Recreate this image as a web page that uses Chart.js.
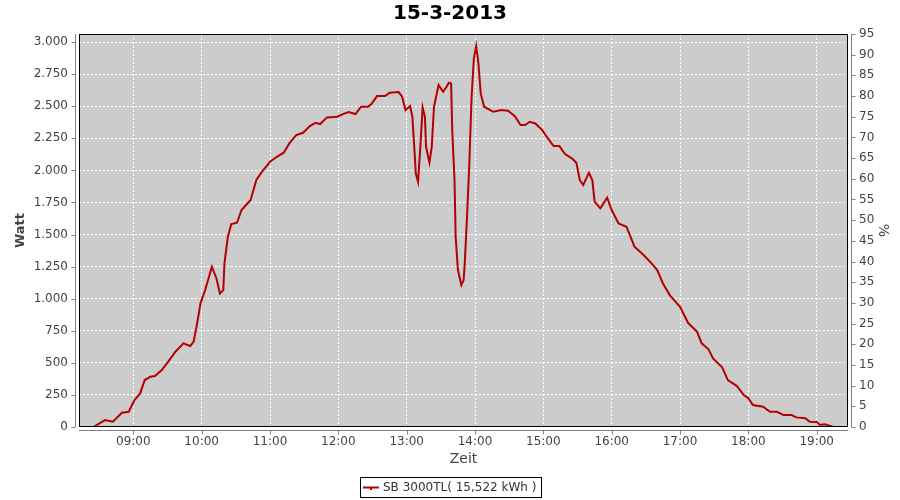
<!DOCTYPE html>
<html>
<head>
<meta charset="utf-8">
<script src="https://cdn.jsdelivr.net/npm/chart.js@4"></script>
<style>
  html, body { margin: 0; padding: 0; background: #ffffff; }
  canvas { display: block; }
</style>
</head>
<body>
<canvas id="c" width="900" height="500"></canvas>
<script>
// ---- data ----
const chartTitle = "15-3-2013";
const seriesLabel = "SB 3000TL( 15,522 kWh )";
const times = ["08:25","08:35","08:42","08:50","08:56","09:01","09:06","09:10","09:15","09:19",
  "09:25","09:31","09:37","09:44","09:50","09:53","09:56","09:59","10:03","10:06",
  "10:09","10:13","10:16","10:19","10:20","10:23","10:26","10:31","10:35","10:43",
  "10:48","10:53","10:57","11:00","11:06","11:12","11:17","11:23","11:29","11:35",
  "11:40","11:44","11:50","11:59","12:04","12:09","12:15","12:20","12:26","12:29",
  "12:34","12:41","12:45","12:53","12:56","12:59","13:03","13:05","13:07","13:08",
  "13:10","13:12","13:14","13:16","13:17","13:20","13:22","13:24","13:28","13:32",
  "13:35","13:37","13:39","13:40","13:42","13:43","13:45","13:48","13:50","13:51",
  "13:53","13:55","13:57","13:59","14:01","14:03","14:05","14:08","14:16","14:23",
  "14:29","14:35","14:40","14:44","14:48","14:53","14:59","15:04","15:09","15:14",
  "15:19","15:25","15:29","15:32","15:35","15:40","15:43","15:45","15:50","15:56",
  "16:00","16:06","16:13","16:20","16:28","16:35","16:40","16:45","16:51","17:00",
  "17:07","17:15","17:19","17:25","17:29","17:37","17:42","17:50","17:56","18:00",
  "18:04","18:13","18:19","18:25","18:31","18:38","18:42","18:50","18:54","19:00",
  "19:03","19:07","19:14"];
const watts = [0,54,41,111,119,210,262,366,392,397,
  444,514,587,652,631,665,808,964,1067,1158,
  1249,1158,1041,1067,1275,1483,1582,1592,1691,1769,
  1925,1990,2034,2067,2106,2138,2210,2275,2293,2345,
  2371,2361,2413,2418,2439,2454,2439,2496,2496,2517,
  2579,2579,2605,2610,2574,2470,2501,2418,2133,1977,
  1912,2184,2491,2418,2184,2060,2184,2496,2665,2613,
  2652,2683,2678,2314,1925,1483,1223,1106,1145,1275,
  1639,2055,2574,2873,2969,2834,2600,2496,2457,2470,
  2465,2423,2353,2353,2379,2366,2314,2249,2190,2190,
  2127,2094,2060,1925,1886,1981,1925,1756,1704,1787,
  1691,1587,1561,1405,1340,1275,1223,1119,1028,937,
  812,742,652,605,535,465,366,319,249,224,
  171,158,119,119,93,93,75,68,41,39,
  16,21,2];
const xTickLabels = ["09:00","10:00","11:00","12:00","13:00","14:00","15:00","16:00","17:00","18:00","19:00"];
const yLeftTicks = [0,250,500,750,1000,1250,1500,1750,2000,2250,2500,2750,3000];
const yRightTicks = [0,5,10,15,20,25,30,35,40,45,50,55,60,65,70,75,80,85,90,95];

// ---- helpers ----
function toHours(s) { const p = s.split(":"); return +p[0] + (+p[1]) / 60; }
function fmtThousands(v) {
  if (v < 1000) return String(v);
  const k = Math.floor(v / 1000), r = v % 1000;
  return k + "." + String(r).padStart(3, "0");
}

const points = times.map((t, i) => ({ x: toHours(t), y: watts[i] }));
const FONT = "'DejaVu Sans', 'Liberation Sans', sans-serif";
const AXIS_GRAY = "#808080";
const TEXT = "#444444";

const framePlugin = {
  id: "frame",
  beforeDraw(chart) {
    const { ctx, chartArea: a } = chart;
    ctx.save();
    ctx.fillStyle = "#ffffff";
    ctx.fillRect(0, 0, chart.width, chart.height);
    ctx.fillStyle = "#cccccc";
    ctx.fillRect(a.left, a.top, a.right - a.left, a.bottom - a.top);
    ctx.restore();
  },
  afterDraw(chart) {
    const { ctx, chartArea: a, scales } = chart;
    ctx.save();
    // plot border
    ctx.strokeStyle = "#000000";
    ctx.lineWidth = 1;
    ctx.strokeRect(a.left + 0.5, a.top + 0.5, a.right - a.left - 1, a.bottom - a.top - 1);
    // offset axis lines
    ctx.strokeStyle = AXIS_GRAY;
    ctx.beginPath();
    const lx = a.left - 4 + 0.5, rx = a.right + 4 - 0.5, by = a.bottom + 4 - 0.5;
    ctx.moveTo(lx, a.top); ctx.lineTo(lx, a.bottom);
    ctx.moveTo(rx, a.top); ctx.lineTo(rx, a.bottom);
    ctx.moveTo(a.left, by); ctx.lineTo(a.right, by);
    // tick marks
    scales.x.ticks.forEach(t => {
      const x = Math.round(scales.x.getPixelForValue(t.value)) + 0.5;
      ctx.moveTo(x, by); ctx.lineTo(x, by + 4);
    });
    scales.y.ticks.forEach(t => {
      const y = Math.round(scales.y.getPixelForValue(t.value)) + 0.5;
      ctx.moveTo(lx, y); ctx.lineTo(lx - 4, y);
    });
    scales.y1.ticks.forEach(t => {
      const y = Math.round(scales.y1.getPixelForValue(t.value)) + 0.5;
      ctx.moveTo(rx, y); ctx.lineTo(rx + 4, y);
    });
    ctx.stroke();

    // legend box
    const ds = chart.data.datasets[0];
    ctx.font = "12px " + FONT;
    const tw = ctx.measureText(ds.label).width;
    const boxW = Math.round(tw + 28), boxH = 20;
    const bx = Math.round(chart.width / 2 - boxW / 2 + 0), byy = 477;
    ctx.strokeStyle = "#000000";
    ctx.strokeRect(bx + 0.5, byy + 0.5, boxW, boxH);
    ctx.strokeStyle = ds.borderColor;
    ctx.lineWidth = 2;
    ctx.beginPath();
    ctx.moveTo(bx + 3, byy + 10.5); ctx.lineTo(bx + 19, byy + 10.5);
    ctx.stroke();
    ctx.fillStyle = ds.borderColor;
    ctx.fillRect(bx + 10, byy + 11, 2, 2);
    ctx.fillStyle = "#333333";
    ctx.textBaseline = "middle";
    ctx.textAlign = "left";
    ctx.fillText(ds.label, bx + 23, byy + 11);
    ctx.restore();
  }
};

new Chart(document.getElementById("c"), {
  type: "line",
  data: {
    datasets: [{
      label: seriesLabel,
      data: points,
      borderColor: "#b40000",
      backgroundColor: "#b40000",
      borderWidth: 2,
      pointRadius: 0,
      tension: 0,
      fill: false,
      yAxisID: "y"
    }]
  },
  options: {
    responsive: false,
    animation: false,
    events: [],
    layout: { padding: { left: 0, right: 0, top: 0, bottom: 30 } },
    plugins: {
      legend: { display: false },
      tooltip: { enabled: false },
      title: {
        display: true,
        text: chartTitle,
        color: "#000000",
        font: { family: FONT, size: 20, weight: "bold" },
        padding: { top: 2, bottom: 8 }
      }
    },
    scales: {
      x: {
        type: "linear",
        min: 8.205,
        max: 19.458,
        afterFit(s) { s.height = 43; },
        afterBuildTicks(s) { s.ticks = xTickLabels.map(l => ({ value: toHours(l) })); },
        ticks: {
          autoSkip: false, maxRotation: 0, padding: 8,
          color: TEXT, font: { family: FONT, size: 12 },
          callback: (v, i) => xTickLabels[i]
        },
        grid: { color: "#ffffff", lineWidth: 1, drawTicks: false },
        border: { display: false, dash: [2, 2] },
        title: {
          display: true, text: "Zeit", color: TEXT,
          font: { family: FONT, size: 14 },
          padding: { top: 0, bottom: 2 }
        }
      },
      y: {
        type: "linear",
        position: "left",
        min: 0,
        max: 3063,
        afterFit(s) { s.width = 79; },
        afterBuildTicks(s) { s.ticks = yLeftTicks.map(v => ({ value: v })); },
        ticks: {
          autoSkip: false, padding: 11,
          color: TEXT, font: { family: FONT, size: 12 },
          callback: v => fmtThousands(v)
        },
        grid: { color: "#ffffff", lineWidth: 1, drawTicks: false },
        border: { display: false, dash: [2, 2] },
        title: {
          display: true, text: "Watt", color: TEXT,
          font: { family: FONT, size: 13, weight: "bold" },
          padding: { top: 13, bottom: 0 }
        }
      },
      y1: {
        type: "linear",
        position: "right",
        min: 0,
        max: 95,
        afterFit(s) { s.width = 52; },
        afterBuildTicks(s) { s.ticks = yRightTicks.map(v => ({ value: v })); },
        ticks: {
          autoSkip: false, padding: 11,
          color: TEXT, font: { family: FONT, size: 12 },
          callback: v => String(v)
        },
        grid: { display: false, drawOnChartArea: false, drawTicks: false },
        border: { display: false },
        title: {
          display: true, text: "%", color: TEXT,
          font: { family: FONT, size: 14 },
          padding: { top: 9, bottom: 0 }
        }
      }
    }
  },
  plugins: [framePlugin]
});
</script>
</body>
</html>
